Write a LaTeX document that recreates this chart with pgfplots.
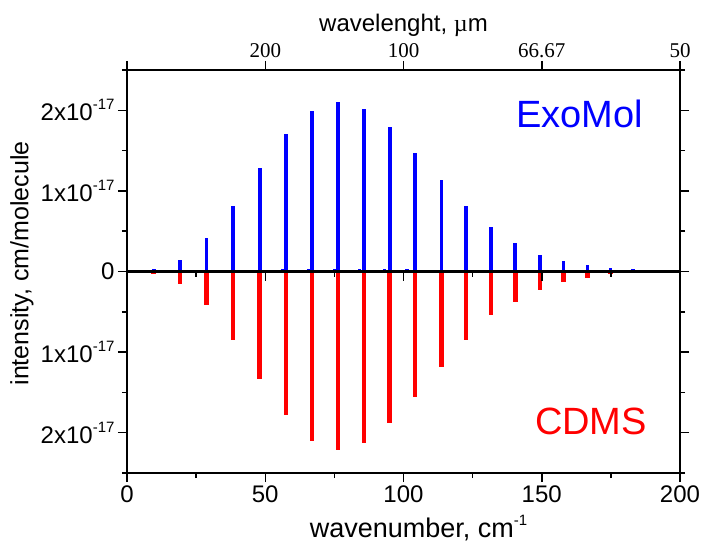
\documentclass[border=0pt]{standalone}
\usepackage{fontspec}
\setmainfont{Liberation Sans}
\newfontfamily\serif{Liberation Serif}
\usepackage{pgfplots}
\usepackage{pgfplotstable}
\pgfplotsset{compat=1.18}
\definecolor{exo}{RGB}{0,0,255}
\definecolor{cdms}{RGB}{255,0,0}

% ExoMol line list (upward)
\pgfplotstableread{
x y
9.7 0.03
19.2 0.14
28.7 0.41
38.35 0.81
48.0 1.28
57.45 1.71
66.9 1.99
76.3 2.10
85.7 2.01
95.05 1.79
104.2 1.47
113.7 1.14
122.6 0.81
131.6 0.55
140.4 0.35
149.4 0.21
157.8 0.13
166.5 0.077
174.8 0.043
183.0 0.03
191.1 0.02
198.7 0.012
}\exomol

% weak ExoMol hot-band lines
\pgfplotstableread{
x y
28.3 0.015
37.6 0.02
47.1 0.02
56.4 0.025
65.6 0.025
75.0 0.025
84.1 0.025
93.1 0.025
101.3 0.025
110.5 0.02
119.2 0.02
128.0 0.02
136.7 0.015
}\exohot

% CDMS (plotted downward)
\pgfplotstableread{
x y
9.7 -0.03
19.2 -0.15
28.7 -0.42
38.35 -0.85
48.0 -1.33
57.45 -1.78
66.9 -2.10
76.3 -2.21
85.7 -2.13
95.05 -1.88
104.2 -1.56
113.7 -1.18
122.6 -0.85
131.6 -0.54
140.4 -0.375
149.4 -0.23
157.8 -0.135
166.5 -0.077
174.8 -0.035
183.0 -0.02
191.1 -0.01
198.7 -0.005
}\cdms

\newcommand{\sups}[1]{\raisebox{0.45em}{\fontsize{15}{16}\selectfont #1}}

\begin{document}
\begin{tikzpicture}
\pgfplotsset{
  every axis/.append style={
    scale only axis, width=553pt, height=403pt,
    xmin=0, xmax=200, ymin=-2.5, ymax=2.5,
    axis line style={-, line width=1.8pt},
    tick style={line width=1.5pt, black},
    major tick length=9pt, minor tick length=5pt,
    tick align=outside,
    /pgf/number format/assume math mode=true,
    tick label style={font=\fontsize{24}{28}\selectfont},
    label style={font=\fontsize{25}{29}\selectfont},
  }
}
\begin{axis}[
  xtick={0,50,...,200}, minor xtick={25,75,125,175},
  xtick pos=lower,
  ytick={-2,-1,0,1,2},
  yticklabels={2x10\sups{-17},1x10\sups{-17},0,1x10\sups{-17},2x10\sups{-17}},
  minor ytick={-2.5,-1.5,-0.5,0.5,1.5,2.5},
  ytick pos=both, yticklabel pos=left,
  xlabel={wavenumber, cm\sups{-1}},
  xlabel style={font=\fontsize{27}{31}\selectfont, yshift=-6pt, xshift=15pt},
  ylabel={intensity, cm/molecule},
  ylabel style={at={(axis description cs:0,0.52)}, anchor=center, yshift=105pt},
  clip=false,
]
\addplot[ycomb, cdms, line width=4.7pt, no markers] table[x=x, y=y] {\cdms};
\addplot[ycomb, exo, line width=3.6pt, no markers] table[x=x, y=y] {\exomol};
\addplot[ycomb, exo, line width=3.6pt, no markers] table[x=x, y=y] {\exohot};
\addplot[black, line width=2.2pt, no markers] coordinates {(0,0) (200,0)};
\pgfplotsinvokeforeach{25,75,125,175}{\draw[line width=1.5pt] (axis cs:#1,0) -- ([yshift=-5pt]axis cs:#1,0);}
\pgfplotsinvokeforeach{50,100,150}{\draw[line width=1.5pt] (axis cs:#1,0) -- ([yshift=-9pt]axis cs:#1,0);}
\node[anchor=base east, text=exo, font=\fontsize{38}{42}\selectfont, inner sep=0pt] at (axis cs:186.6,1.79) {ExoMol};
\node[anchor=base east, text=cdms, font=\fontsize{38}{42}\selectfont, inner sep=0pt] at (axis cs:188.1,-2.02) {CDMS};
\end{axis}
\begin{axis}[
  hide y axis,
  xtick={0,50,100,150,200}, xticklabels={,200,100,66.67,50},
  xtick pos=upper, xticklabel pos=upper,
  xticklabel style={font=\serif\fontsize{21}{25}\selectfont},
  xlabel={wavelenght, {\serif µ}m},
  xlabel style={font=\fontsize{24}{28}\selectfont},
]
\end{axis}
\pgfresetboundingbox
\path[use as bounding box] (-127pt,-79pt) rectangle (574pt,473pt);
\end{tikzpicture}
\end{document}
